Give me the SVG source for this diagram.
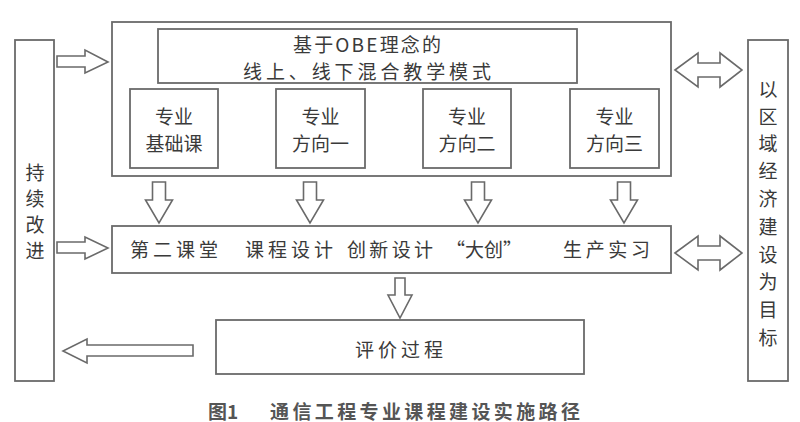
<svg xmlns="http://www.w3.org/2000/svg" width="800" height="422" viewBox="0 0 800 422">
<style>
.box{fill:#fff;stroke:#6a6a6a;stroke-width:1.8}
.arr{fill:#fff;stroke:#6a6a6a;stroke-width:1.6;stroke-linejoin:miter}
.t{font-family:"Noto Sans CJK SC","Noto Sans",sans-serif;font-size:19px;fill:#3a3a3a;dominant-baseline:central}
.tm{text-anchor:middle}
.cap{font-family:"Noto Sans CJK SC","Noto Sans",sans-serif;font-size:19px;font-weight:700;fill:#555;dominant-baseline:central}
</style>
<rect width="800" height="422" fill="#fff"/>
<g id="left-box">
<rect class="box" x="15" y="40" width="39" height="341"/>
<text class="t tm"><tspan x="35" y="171">持</tspan><tspan x="35" y="197">续</tspan><tspan x="35" y="223">改</tspan><tspan x="35" y="249">进</tspan></text>
</g>
<g id="right-box">
<rect class="box" x="748" y="40" width="40" height="341"/>
<text class="t tm"><tspan x="768" y="88">以</tspan><tspan x="768" y="115">区</tspan><tspan x="768" y="142">域</tspan><tspan x="768" y="169">经</tspan><tspan x="768" y="197">济</tspan><tspan x="768" y="225">建</tspan><tspan x="768" y="253">设</tspan><tspan x="768" y="280">为</tspan><tspan x="768" y="308">目</tspan><tspan x="768" y="336">标</tspan></text>
</g>
<g id="outer-box">
<rect class="box" x="112" y="22" width="559" height="154"/>
</g>
<g id="title-box">
<rect class="box" x="158" y="29" width="419" height="54"/>
<text class="t" x="293" y="43" textLength="148" lengthAdjust="spacing">基于OBE理念的</text>
<text class="t" x="243" y="70" textLength="248" lengthAdjust="spacing">线上、线下混合教学模式</text>
</g>
<g id="sub1">
<rect class="box" x="130" y="89" width="88" height="79"/>
<text class="t tm" x="174" y="115">专业</text>
<text class="t tm" x="174" y="142">基础课</text>
</g>
<g id="sub2">
<rect class="box" x="276" y="89" width="89" height="79"/>
<text class="t tm" x="320.5" y="115">专业</text>
<text class="t tm" x="320.5" y="142">方向一</text>
</g>
<g id="sub3">
<rect class="box" x="423" y="89" width="88" height="79"/>
<text class="t tm" x="467" y="115">专业</text>
<text class="t tm" x="467" y="142">方向二</text>
</g>
<g id="sub4">
<rect class="box" x="570" y="89" width="89" height="79"/>
<text class="t tm" x="614.5" y="115">专业</text>
<text class="t tm" x="614.5" y="142">方向三</text>
</g>
<g id="practice-box">
<rect class="box" x="112" y="226" width="559" height="47"/>
<text class="t" x="130" y="248" textLength="88" lengthAdjust="spacing">第二课堂</text>
<text class="t" x="245" y="248" textLength="88" lengthAdjust="spacing">课程设计</text>
<text class="t" x="347" y="248" textLength="86" lengthAdjust="spacing">创新设计</text>
<text class="t" y="248"><tspan x="446">“</tspan><tspan x="465">大创</tspan><tspan x="503">”</tspan></text>
<text class="t" x="563" y="248" textLength="87" lengthAdjust="spacing">生产实习</text>
</g>
<g id="eval-box">
<rect class="box" x="216" y="320" width="368" height="54"/>
<text class="t" x="355" y="348" textLength="88" lengthAdjust="spacing">评价过程</text>
</g>
<g id="connectors">
<polygon class="arr" points="57,56 85,56 85,50 108,62 85,73 85,67 57,67"/>
<polygon class="arr" points="57,242 85,242 85,237 108,248 85,259 85,253 57,253"/>
<polygon class="arr" points="193,345 87,345 87,339 63,351 87,363 87,356 193,356"/>
<polygon class="arr" points="675,70 698,53 698,63 720,63 720,53 742,70 720,87 720,77 698,77 698,87"/>
<polygon class="arr" points="675,253 698,236 698,246 720,246 720,236 742,253 720,270 720,260 698,260 698,270"/>
<polygon class="arr" points="152.5,182 165.5,182 165.5,200 172.5,200 159,223 145.5,200 152.5,200"/>
<polygon class="arr" points="303.5,182 316.5,182 316.5,200 323.5,200 310,223 296.5,200 303.5,200"/>
<polygon class="arr" points="471.5,182 484.5,182 484.5,200 491.5,200 478,223 464.5,200 471.5,200"/>
<polygon class="arr" points="617.5,182 630.5,182 630.5,200 637.5,200 624,223 610.5,200 617.5,200"/>
<polygon class="arr" points="395,278 405,278 405,295 412,295 400,318 388,295 395,295"/>
</g>
<text id="caption" class="cap" x="208" y="410"><tspan>图1</tspan><tspan x="270" textLength="310" lengthAdjust="spacing">通信工程专业课程建设实施路径</tspan></text>
</svg>
